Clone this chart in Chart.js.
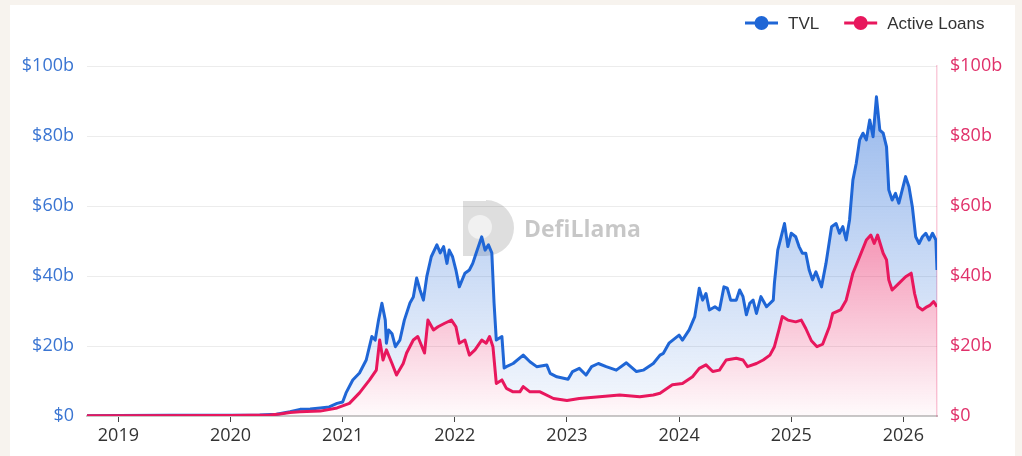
<!DOCTYPE html>
<html>
<head>
<meta charset="utf-8">
<script src="https://cdn.jsdelivr.net/npm/chart.js@4.4.1/dist/chart.umd.min.js"></script>
<style>
    html, body { margin: 0; padding: 0; background: #f7f3ee; }
    .painel {
        position: absolute; left: 10px; top: 5px;
        width: 1005px; height: 451px; background: #fff;
    }
</style>
</head>
<body>
<div class="painel"><canvas id="grafico" width="1005" height="451"></canvas></div>
<script>
// --- DADOS ---
const tvlDates = [
    2018.72, 2019.0, 2019.46, 2020.0, 2020.26, 2020.41, 2020.53, 2020.62, 2020.71, 2020.80,
    2020.88, 2020.95, 2021.0, 2021.03, 2021.09, 2021.15, 2021.21, 2021.26, 2021.29, 2021.32,
    2021.35, 2021.38, 2021.39, 2021.41, 2021.44, 2021.47, 2021.51, 2021.55, 2021.60, 2021.63,
    2021.66, 2021.69, 2021.72, 2021.75, 2021.79, 2021.84, 2021.87, 2021.90, 2021.93, 2021.95,
    2021.98, 2022.01, 2022.04, 2022.09, 2022.13, 2022.16, 2022.19, 2022.24, 2022.27, 2022.30,
    2022.33, 2022.35, 2022.37, 2022.42, 2022.44, 2022.46, 2022.52, 2022.61, 2022.67, 2022.73,
    2022.82, 2022.85, 2022.91, 2023.01, 2023.05, 2023.11, 2023.17, 2023.22, 2023.28, 2023.35,
    2023.44, 2023.53, 2023.62, 2023.68, 2023.77, 2023.83, 2023.86, 2023.91, 2024.00, 2024.03,
    2024.09, 2024.14, 2024.18, 2024.21, 2024.24, 2024.27, 2024.32, 2024.36, 2024.40, 2024.43,
    2024.46, 2024.51, 2024.54, 2024.57, 2024.60, 2024.63, 2024.66, 2024.69, 2024.73, 2024.78,
    2024.84, 2024.85, 2024.88, 2024.91, 2024.94, 2024.97, 2025.00, 2025.04, 2025.07, 2025.10,
    2025.13, 2025.16, 2025.19, 2025.22, 2025.27, 2025.31, 2025.36, 2025.40, 2025.43, 2025.46,
    2025.49, 2025.52, 2025.55, 2025.58, 2025.61, 2025.64, 2025.67, 2025.70, 2025.73, 2025.76,
    2025.79, 2025.82, 2025.85, 2025.87, 2025.90, 2025.93, 2025.96, 2025.99, 2026.02, 2026.05,
    2026.08, 2026.11, 2026.14, 2026.17, 2026.20, 2026.23, 2026.26, 2026.29, 2026.30
];
const tvlValues = [
    0.1, 0.15, 0.2, 0.2, 0.3, 0.5, 1.2, 1.9, 2.0, 2.3,
    2.6, 3.6, 4.0, 6.6, 10.3, 12.3, 16, 22.7, 21.7, 27.4,
    32.2, 27.4, 20.8, 24.6, 23.5, 19.8, 21.7, 27.4, 32.3, 34,
    39.4, 36, 33.1, 39.8, 45.5, 48.9, 46.6, 48.4, 43.6, 47.4,
    45.5, 41.7, 36.9, 40.8, 41.7, 43.6, 46.5, 51.2, 47.4, 48.9,
    46.6, 32.3, 21.7, 22.7, 13.7, 14.1, 15, 17.4, 15.5, 14.1,
    14.6, 12.2, 11.2, 10.5, 12.7, 13.6, 11.7, 14.1, 15, 14.1,
    13.1, 15.2, 12.7, 13.1, 15, 17.4, 17.9, 20.8, 23.1, 21.7,
    24.6, 28.4, 36.5, 33.1, 35, 30.3, 31.2, 30.3, 36.9, 36.5,
    33.1, 33.1, 36, 34.1, 28.9, 32.2, 33.1, 29.3, 34.1, 31.2,
    33.1, 37.9, 47.4, 51.2, 55, 48.4, 52.2, 51.2, 48.4, 46.5,
    46.5, 41.7, 38.9, 41.2, 36.9, 43.6, 54.1, 55, 52.2, 54.1,
    50.3, 56, 67.4, 72.2, 78.9, 80.8, 78.9, 84.6, 79.8, 91.2,
    81.7, 80.8, 76.9, 64.6, 61.7, 63.6, 60.8, 64.6, 68.4, 65.5,
    59.8, 51.2, 49.3, 51.2, 52.2, 50.3, 52.2, 50.3, 41.7
];
const loanDates = [
    2018.72, 2020.0, 2020.35, 2020.44, 2020.53, 2020.62, 2020.80, 2020.95, 2021.06, 2021.15,
    2021.24, 2021.30, 2021.33, 2021.36, 2021.39, 2021.44, 2021.48, 2021.54, 2021.57, 2021.63,
    2021.67, 2021.73, 2021.76, 2021.81, 2021.85, 2021.91, 2021.97, 2022.01, 2022.04, 2022.09,
    2022.13, 2022.18, 2022.24, 2022.28, 2022.31, 2022.34, 2022.37, 2022.42, 2022.46, 2022.52,
    2022.58, 2022.61, 2022.67, 2022.76, 2022.88, 2023.00, 2023.11, 2023.29, 2023.47, 2023.65,
    2023.77, 2023.83, 2023.94, 2024.03, 2024.12, 2024.18, 2024.24, 2024.30, 2024.36, 2024.42,
    2024.51, 2024.57, 2024.61, 2024.69, 2024.75, 2024.81, 2024.85, 2024.89, 2024.92, 2024.97,
    2025.04, 2025.09, 2025.13, 2025.18, 2025.23, 2025.28, 2025.34, 2025.37, 2025.44, 2025.49,
    2025.55, 2025.61, 2025.67, 2025.71, 2025.74, 2025.77, 2025.82, 2025.85, 2025.87, 2025.90,
    2025.96, 2026.02, 2026.07, 2026.10, 2026.13, 2026.17, 2026.21, 2026.24, 2026.27, 2026.30
];
const loanValues = [
    0.1, 0.15, 0.3, 0.6, 1.0, 1.2, 1.4, 2.3, 3.6, 6.6,
    10.3, 13.1, 21.7, 16, 18.9, 15, 11.7, 15, 18, 21.7,
    22.7, 18, 27.4, 24.6, 25.5, 26.5, 27.4, 25.5, 20.8, 21.7,
    17.4, 18.9, 21.7, 20.8, 22.7, 19.8, 9.3, 10.3, 7.9, 6.9,
    6.9, 8.4, 6.9, 6.9, 5, 4.4, 5, 5.5, 6, 5.5,
    6, 6.5, 8.9, 9.3, 11.2, 13.6, 14.6, 12.7, 13.1, 16,
    16.5, 16, 14.1, 15, 16, 17.4, 19.8, 24.6, 28.4, 27.4,
    26.9, 27.4, 25, 21.5, 19.8, 20.5, 25.5, 29.3, 30.3, 33.1,
    40.8, 45.5, 50.3, 51.7, 49.3, 51.7, 46.5, 44.6, 38.9, 36,
    37.9, 39.8, 40.8, 35, 31.2, 30.3, 31.2, 31.7, 32.7, 31.2
];
const yearTicks = [2019, 2020, 2021, 2022, 2023, 2024, 2025, 2026];
const seriesNames = ['TVL', 'Active Loans'];

const AZUL = 'rgb(31, 102, 214)';
const ROSA = 'rgb(232, 23, 93)';

document.addEventListener('DOMContentLoaded', () => {

    const pontos = (xs, ys) => xs.map((x, i) => ({ x: x, y: ys[i] }));

    function gradiente(chart, r, g, b, topo, base) {
        const area = chart.chartArea;
        if (!area) return null;
        const grad = chart.ctx.createLinearGradient(0, area.top, 0, area.bottom);
        grad.addColorStop(0, `rgba(${r},${g},${b},${topo})`);
        grad.addColorStop(1, `rgba(${r},${g},${b},${base})`);
        return grad;
    }

    // marca d'água DefiLlama
    const marcaDagua = {
        id: 'marcaDagua',
        beforeDatasetsDraw(chart) {
            const ctx = chart.ctx;
            ctx.save();
            ctx.fillStyle = 'rgba(0,0,0,0.13)';
            ctx.beginPath();
            ctx.moveTo(453, 196);
            ctx.lineTo(476, 196);
            ctx.arc(476, 223, 28, -Math.PI / 2, Math.PI / 2);
            ctx.lineTo(453, 251);
            ctx.closePath();
            ctx.fill();
            ctx.fillStyle = 'rgba(255,255,255,0.55)';
            ctx.beginPath();
            ctx.arc(470, 222, 12, 0, Math.PI * 2);
            ctx.fill();
            ctx.fillStyle = 'rgba(0,0,0,0.22)';
            ctx.font = 'bold 23px "Open Sans", sans-serif';
            ctx.textBaseline = 'middle';
            ctx.fillText('DefiLlama', 514, 225);
            ctx.restore();
        }
    };

    // legenda no estilo linha + círculo
    const legenda = {
        id: 'legenda',
        afterDraw(chart) {
            const ctx = chart.ctx;
            ctx.save();
            ctx.font = '17px "Liberation Sans", Arial, sans-serif';
            ctx.textBaseline = 'middle';
            let x = 735;
            const y = 18;
            chart.data.datasets.forEach(ds => {
                ctx.strokeStyle = ds.borderColor;
                ctx.lineWidth = 3;
                ctx.beginPath();
                ctx.moveTo(x, y);
                ctx.lineTo(x + 33, y);
                ctx.stroke();
                ctx.fillStyle = ds.borderColor;
                ctx.beginPath();
                ctx.arc(x + 16.5, y, 7, 0, Math.PI * 2);
                ctx.fill();
                ctx.fillStyle = '#333';
                ctx.fillText(ds.label, x + 43, y + 1);
                x += 43 + ctx.measureText(ds.label).width + 25;
            });
            ctx.restore();
        }
    };

    const fmt = v => v === 0 ? '$0' : '$' + v + 'b';

    new Chart(document.getElementById('grafico'), {
        type: 'line',
        data: {
            datasets: [
                {
                    label: seriesNames[0],
                    data: pontos(tvlDates, tvlValues),
                    yAxisID: 'y',
                    borderColor: AZUL,
                    borderWidth: 3,
                    borderJoinStyle: 'round',
                    pointRadius: 0,
                    tension: 0,
                    fill: 1,
                    backgroundColor: ctx => gradiente(ctx.chart, 31, 102, 214, 0.5, 0.04),
                    order: 2
                },
                {
                    label: seriesNames[1],
                    data: pontos(loanDates, loanValues),
                    yAxisID: 'y1',
                    borderColor: ROSA,
                    borderWidth: 3,
                    borderJoinStyle: 'round',
                    pointRadius: 0,
                    tension: 0,
                    fill: 'origin',
                    backgroundColor: ctx => gradiente(ctx.chart, 232, 23, 93, 0.85, 0.02),
                    order: 1
                }
            ]
        },
        options: {
            responsive: false,
            animation: false,
            layout: { padding: { top: 61, left: 0, right: 0, bottom: 0 } },
            plugins: {
                legend: { display: false },
                tooltip: { enabled: false }
            },
            scales: {
                x: {
                    type: 'linear',
                    min: 2018.72,
                    max: 2026.3,
                    afterBuildTicks: axis => { axis.ticks = yearTicks.map(v => ({ value: v })); },
                    afterFit: axis => { axis.height = 40; },
                    border: { display: true, color: '#c8c8c8', width: 2 },
                    grid: { drawOnChartArea: false, drawTicks: true, tickLength: 6, color: '#444' },
                    ticks: {
                        padding: 3,
                        color: '#333',
                        font: { family: '"Open Sans", sans-serif', size: 18 },
                        callback: v => String(v)
                    }
                },
                y: {
                    position: 'left',
                    min: 0, max: 100,
                    afterFit: axis => { axis.width = 77; },
                    border: { display: false },
                    grid: { color: '#ececec', drawTicks: false },
                    ticks: {
                        stepSize: 20,
                        padding: 13,
                        color: '#3a75d2',
                        font: { family: '"Open Sans", sans-serif', size: 18 },
                        callback: fmt
                    }
                },
                y1: {
                    position: 'right',
                    min: 0, max: 100,
                    afterFit: axis => { axis.width = 78; },
                    border: { display: true, color: 'rgba(232,23,93,0.22)', dash: [8, 6], width: 1.5 },
                    grid: { drawOnChartArea: false, drawTicks: false },
                    ticks: {
                        stepSize: 20,
                        padding: 13,
                        color: '#e0306a',
                        font: { family: '"Open Sans", sans-serif', size: 18 },
                        callback: fmt
                    }
                }
            }
        },
        plugins: [marcaDagua, legenda]
    });
});
</script>
</body>
</html>
